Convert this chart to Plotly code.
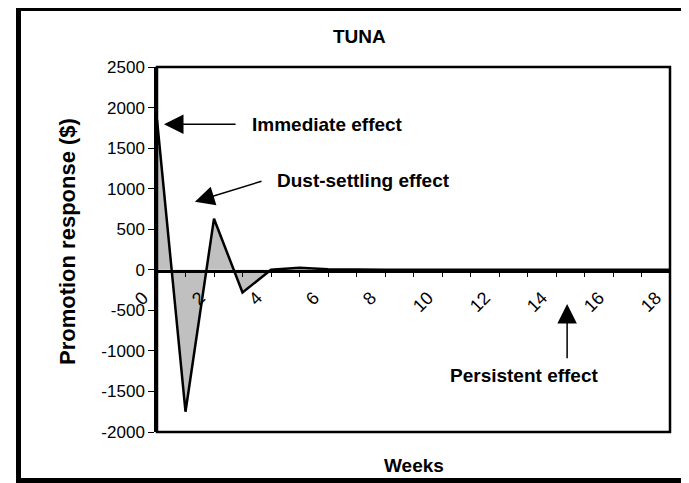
import plotly.graph_objects as go

weeks = list(range(0, 19))
response = [1850, -1750, 630, -280, 0, 25, 5, 0, 0, 0, 0, 0, 0, 0, 0, 0, 0, 0, 0]
x_tick_vals = [0, 2, 4, 6, 8, 10, 12, 14, 16, 18]
x_tick_text = [str(v) for v in x_tick_vals]
y_tick_vals = [2500, 2000, 1500, 1000, 500, 0, -500, -1000, -1500, -2000]
y_tick_text = [str(v) for v in y_tick_vals]

OFF = 8  # page body margin
W, H = 689 - OFF, 483 - OFF
L, R, T, B = 157 - OFF, 19, 67 - OFF, 51
pw, ph = W - L - R, H - T - B
FONT = "Liberation Sans, Arial, sans-serif"

def px2paper_x(px):
    return (px - OFF - L) / pw

def py2paper_y(py):
    return (H - B - (py - OFF)) / ph

fig = go.Figure()
fig.add_trace(go.Scatter(
    x=weeks, y=response, mode="lines", fill="tozeroy",
    fillcolor="#C0C0C0", line=dict(color="black", width=2.5),
    hoverinfo="skip", showlegend=False,
))

fig.update_layout(
    width=W, height=H, autosize=False,
    margin=dict(l=L, r=R, t=T, b=B, pad=0),
    paper_bgcolor="white", plot_bgcolor="white",
    font=dict(family=FONT, size=16, color="black"),
    showlegend=False,
    xaxis=dict(
        range=[0, 18], tickmode="array", tickvals=x_tick_vals, ticktext=x_tick_text,
        tickangle=-45, ticks="outside", ticklen=5, tickwidth=1, tickcolor="black",
        minor=dict(dtick=1, tick0=0, ticks="outside", ticklen=5, tickwidth=1, tickcolor="black"),
        showgrid=False, zeroline=False, showline=True, linecolor="black", linewidth=2.5,
        anchor="free", position=py2paper_y(270.5),
        ticklabelshift=-14, ticklabelstandoff=3,
        tickfont=dict(size=18), fixedrange=True,
    ),
    yaxis=dict(
        range=[-2000, 2500], tickmode="array", tickvals=y_tick_vals, ticktext=y_tick_text,
        ticks="outside", ticklen=6, tickwidth=1, tickcolor="black",
        showgrid=False, zeroline=False, showline=True, linecolor="black", linewidth=2.5,
        tickfont=dict(size=17), fixedrange=True,
    ),
)

shapes = [
    dict(type="rect", xref="paper", yref="paper", x0=0, x1=1, y0=0, y1=1,
         line=dict(color="black", width=2.5), layer="above"),
    dict(type="rect", xref="paper", yref="paper",
         x0=px2paper_x(18.5), x1=px2paper_x(710), y0=py2paper_y(480.5), y1=py2paper_y(8.5),
         line=dict(color="black", width=5)),
]
fig.update_layout(shapes=shapes)

bold = dict(family=FONT, size=19, color="black")
annotations = [
    dict(text="<b>TUNA</b>", xref="paper", yref="paper", x=px2paper_x(359), y=py2paper_y(36),
         xanchor="center", yanchor="middle", showarrow=False, font=bold),
    dict(text="<b>Weeks</b>", xref="paper", yref="paper", x=0.5, y=py2paper_y(465),
         xanchor="center", yanchor="middle", showarrow=False, font=bold),
    dict(text="<b>Promotion response ($)</b>", xref="paper", yref="paper",
         x=px2paper_x(67), y=py2paper_y(242),
         xanchor="center", yanchor="middle", textangle=-90, showarrow=False,
         font=dict(family=FONT, size=22, color="black")),
    # labels
    dict(text="<b>Immediate effect</b>", x=3.26, y=1795, xanchor="left", yanchor="middle",
         showarrow=False, font=bold),
    dict(text="<b>Dust-settling effect</b>", x=4.14, y=1097, xanchor="left", yanchor="middle",
         showarrow=False, font=bold),
    dict(text="<b>Persistent effect</b>", x=12.9, y=-1305, xanchor="center", yanchor="middle",
         showarrow=False, font=bold),
    # arrows
    dict(text="", x=0.245, y=1795, ax=2.81, ay=1795, axref="x", ayref="y",
         showarrow=True, arrowhead=2, arrowsize=2.6, arrowwidth=1.5, arrowcolor="black"),
    dict(text="", x=1.33, y=839, ax=3.72, ay=1097, axref="x", ayref="y",
         showarrow=True, arrowhead=2, arrowsize=2.6, arrowwidth=1.5, arrowcolor="black"),
    dict(text="", x=14.39, y=-423, ax=14.39, ay=-1109, axref="x", ayref="y",
         showarrow=True, arrowhead=2, arrowsize=2.6, arrowwidth=1.5, arrowcolor="black"),
]
fig.update_layout(annotations=annotations)

fig.write_html("out.html")
